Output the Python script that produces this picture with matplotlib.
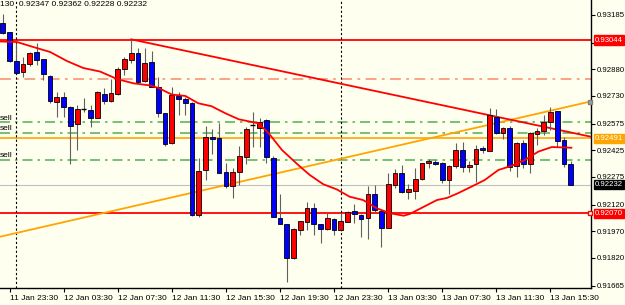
import matplotlib
matplotlib.use("Agg")
import matplotlib.pyplot as plt
import matplotlib.transforms as mtransforms

plt.rcParams['font.family'] = ['Liberation Sans', 'DejaVu Sans']

# Bougies M30, de 11 Jan 23:00 a 13 Jan 17:00 (index 0..84)
opens = [0.93142, 0.93088, 0.92926, 0.92865, 0.92910, 0.92975, 0.92936, 0.92842, 0.92698, 0.92722,
         0.92666, 0.92573, 0.92655, 0.92651, 0.92604, 0.92743, 0.92702, 0.92741, 0.92880, 0.92932,
         0.92970, 0.92813, 0.92922, 0.92779, 0.92633, 0.92467, 0.92732, 0.92713, 0.92689, 0.92061,
         0.92312, 0.92498, 0.92496, 0.92304, 0.92226, 0.92304, 0.92388, 0.92567, 0.92548, 0.92595,
         0.92380, 0.92042, 0.92009, 0.91818, 0.91976, 0.92023, 0.92098, 0.92009, 0.91981, 0.92038,
         0.91976, 0.92023, 0.92085, 0.92061, 0.92042, 0.92177, 0.92085, 0.91986, 0.92231, 0.92299,
         0.92189, 0.92198, 0.92264, 0.92352, 0.92361, 0.92355, 0.92258, 0.92338, 0.92426, 0.92329,
         0.92346, 0.92436, 0.92423, 0.92613, 0.92520, 0.92552, 0.92338, 0.92464, 0.92346, 0.92516,
         0.92533, 0.92585, 0.92645, 0.92482, 0.92347]
highs = [0.93191, 0.93091, 0.93026, 0.92947, 0.92979, 0.93026, 0.92940, 0.92845, 0.92754, 0.92754,
         0.92672, 0.92679, 0.92717, 0.92679, 0.92760, 0.92773, 0.92825, 0.92895, 0.92951, 0.93046,
         0.92998, 0.92998, 0.92984, 0.92839, 0.92635, 0.92779, 0.92754, 0.92726, 0.92694, 0.92380,
         0.92561, 0.92543, 0.92580, 0.92352, 0.92323, 0.92449, 0.92557, 0.92642, 0.92605, 0.92598,
         0.92393, 0.92177, 0.92012, 0.91990, 0.92030, 0.92136, 0.92127, 0.92012, 0.92070, 0.92042,
         0.92070, 0.92085, 0.92121, 0.92065, 0.92226, 0.92230, 0.92088, 0.92295, 0.92318, 0.92342,
         0.92233, 0.92323, 0.92355, 0.92374, 0.92370, 0.92360, 0.92343, 0.92464, 0.92473, 0.92364,
         0.92454, 0.92449, 0.92661, 0.92655, 0.92557, 0.92561, 0.92473, 0.92483, 0.92529, 0.92548,
         0.92623, 0.92666, 0.92648, 0.92501, 0.92362]
lows = [0.93078, 0.92923, 0.92858, 0.92838, 0.92900, 0.92904, 0.92820, 0.92692, 0.92613, 0.92613,
        0.92348, 0.92427, 0.92641, 0.92557, 0.92604, 0.92683, 0.92698, 0.92735, 0.92848, 0.92917,
        0.92805, 0.92810, 0.92779, 0.92610, 0.92451, 0.92460, 0.92622, 0.92622, 0.92058, 0.92052,
        0.92258, 0.92404, 0.92296, 0.92211, 0.92155, 0.92230, 0.92348, 0.92442, 0.92445, 0.92355,
        0.92050, 0.92009, 0.91686, 0.91815, 0.91949, 0.91977, 0.91949, 0.91902, 0.91978, 0.91949,
        0.91974, 0.92020, 0.92014, 0.91939, 0.91925, 0.92070, 0.91879, 0.91986, 0.92211, 0.92185,
        0.92149, 0.92149, 0.92258, 0.92327, 0.92343, 0.92239, 0.92179, 0.92323, 0.92301, 0.92301,
        0.92248, 0.92407, 0.92418, 0.92517, 0.92486, 0.92310, 0.92276, 0.92323, 0.92299, 0.92455,
        0.92511, 0.92539, 0.92445, 0.92329, 0.92228]
closes = [0.93082, 0.92926, 0.92861, 0.92908, 0.92970, 0.92932, 0.92852, 0.92703, 0.92722, 0.92670,
          0.92563, 0.92657, 0.92652, 0.92608, 0.92751, 0.92703, 0.92745, 0.92880, 0.92936, 0.92973,
          0.92810, 0.92917, 0.92782, 0.92636, 0.92460, 0.92735, 0.92715, 0.92689, 0.92061, 0.92308,
          0.92501, 0.92486, 0.92299, 0.92226, 0.92304, 0.92393, 0.92543, 0.92565, 0.92584, 0.92385,
          0.92052, 0.92009, 0.91818, 0.91981, 0.92027, 0.92098, 0.92010, 0.91981, 0.92042, 0.91976,
          0.92029, 0.92076, 0.92065, 0.92038, 0.92177, 0.92089, 0.91986, 0.92235, 0.92299, 0.92189,
          0.92205, 0.92261, 0.92352, 0.92367, 0.92346, 0.92258, 0.92338, 0.92426, 0.92329, 0.92342,
          0.92432, 0.92426, 0.92623, 0.92520, 0.92548, 0.92333, 0.92464, 0.92346, 0.92524, 0.92533,
          0.92585, 0.92641, 0.92478, 0.92347, 0.92232]

# Moyenne mobile
ma_x = [-0.4, 2.1, 4.5, 7.0, 9.5, 11.9, 14.4, 15.9, 16.9, 19.3, 21.8, 23.0, 25.0, 27.0, 28.9,
        30.9, 32.9, 34.9, 37.8, 39.3, 41.3, 43.7, 45.4, 47.4, 49.4, 51.3, 53.3, 55.3, 57.3, 59.3,
        60.2, 62.2, 64.2, 65.7, 67.3, 69.3, 71.3, 73.3, 75.3, 77.2, 79.2, 81.2, 84.1]
ma_y = [0.93036, 0.93033, 0.93005, 0.92977, 0.92926, 0.92887, 0.92867, 0.92842, 0.92825, 0.92801,
        0.92789, 0.92775, 0.92738, 0.92730, 0.92689, 0.92672, 0.92633, 0.92599, 0.92576, 0.92522,
        0.92426, 0.92342, 0.92286, 0.92234, 0.92205, 0.92164, 0.92145, 0.92099, 0.92071, 0.92057,
        0.92067, 0.92106, 0.92145, 0.92157, 0.92183, 0.92220, 0.92258, 0.92314, 0.92338, 0.92370,
        0.92417, 0.92443, 0.92439]

# Niveaux et lignes de tendance
resist_level = 0.93044
support_level = 0.92070
orange_level = 0.92491
bid_level = 0.92232
salmon_level = 0.92827
sell_levels = [0.92582, 0.92524, 0.92370]
red_trend_x = [19.0, 86.85]
red_trend_y = [0.93048, 0.92502]
orange_trend_x = [-0.41, 86.85]
orange_trend_y = [0.91939, 0.92698]
day_breaks = [2, 50]

price_ticks = [0.93185, 0.93030, 0.92880, 0.92730, 0.92575, 0.92425, 0.92275, 0.92120, 0.91970, 0.91820, 0.91665]
time_ticks = [1, 9, 17, 25, 33, 41, 49, 57, 65, 73, 81]
time_labels = ['11 Jan 23:30', '12 Jan 03:30', '12 Jan 07:30', '12 Jan 11:30', '12 Jan 15:30',
               '12 Jan 19:30', '12 Jan 23:30', '13 Jan 03:30', '13 Jan 07:30', '13 Jan 11:30',
               '13 Jan 15:30']

bg = '#FFFFF0'
fs = 6.0
fs_price = 5.6

fig = plt.figure(figsize=(6.25, 3.05), dpi=100, facecolor=bg)
ax = fig.add_axes([0, 17 / 305, 591 / 625, 288 / 305])
ax.set_facecolor(bg)
ax.set_xlim(-0.41, 87.0)
ax.set_ylim(0.91651, 0.93269)

# Lignes horizontales
ax.axhline(resist_level, color='#FF0000', lw=1.3, zorder=1)
ax.axhline(support_level, color='#FF0000', lw=1.3, zorder=1)
ax.axhline(orange_level, color='#FFA500', lw=1.2, zorder=1)
ax.axhline(bid_level, color='#C0C0C0', lw=0.8, zorder=1)
ax.axhline(salmon_level, color='#FA9C80', lw=1.3, ls=(0, (6, 3, 1.5, 3)), zorder=1)
for lvl in sell_levels:
    ax.axhline(lvl, color='#5DB55D', lw=1.2, ls=(0, (6, 3, 1.5, 3)), zorder=1)
    ax.text(0.0, lvl + 0.00004, 'sell', fontsize=fs, color='black', va='bottom', ha='left',
            transform=mtransforms.blended_transform_factory(ax.transAxes, ax.transData))

for d in day_breaks:
    ax.axvline(d, color='black', lw=0.8, ls=(0, (2, 2)), zorder=1)

# Lignes de tendance
ax.plot(orange_trend_x, orange_trend_y, color='#FFA500', lw=1.3, zorder=2)
ax.plot(red_trend_x, red_trend_y, color='#FF0000', lw=1.3, zorder=2)

# Bougies
for i in range(len(opens)):
    o, h, l, c = opens[i], highs[i], lows[i], closes[i]
    col = '#FF0000' if c > o else '#0000FF'
    ax.vlines(i, l, h, color='#606060', lw=0.8, zorder=3)
    if abs(c - o) < 0.00004:
        ax.hlines(o, i - 0.37, i + 0.37, color='black', lw=1.0, zorder=4)
    else:
        ax.bar(i, abs(c - o), bottom=min(o, c), width=0.7, color=col,
               edgecolor='black', linewidth=0.6, zorder=4)

# Moyenne mobile
ax.plot(ma_x, ma_y, color='#FF0000', lw=1.3, zorder=5)

# petits marqueurs en bout de ligne
ax.plot([86.8], [support_level], marker='s', ms=3.5, mfc='white', mec='#FF0000', mew=1, zorder=6,
        clip_on=False)
ax.plot([86.85], [orange_trend_y[1]], marker='s', ms=3, mfc='#A0A0A0', mec='#808080', zorder=6,
        clip_on=False)

# Axes
for s in ['top', 'left']:
    ax.spines[s].set_visible(False)
ax.spines['right'].set_linewidth(1.0)
ax.spines['bottom'].set_linewidth(1.0)
ax.yaxis.tick_right()
ax.set_yticks(price_ticks)
ax.set_yticklabels(['%.5f' % p for p in price_ticks])
ax.set_xticks(time_ticks)
ax.set_xticklabels(time_labels, ha='left')
ax.tick_params(axis='y', length=3, width=0.8, labelsize=fs_price, pad=1)
ax.tick_params(axis='x', length=3, width=0.8, labelsize=fs, pad=2)

# Etiquettes de prix sur l'axe droit
ytr = mtransforms.blended_transform_factory(ax.transAxes, ax.transData)
for lvl, fc in [(resist_level, '#FF0000'), (orange_level, '#FFA500'),
                (bid_level, '#000000'), (support_level, '#FF0000')]:
    ax.text(1.007, lvl, '%.5f' % lvl, transform=ytr, fontsize=fs_price, color='white', va='center',
            ha='left', zorder=10, clip_on=False,
            bbox=dict(boxstyle='square,pad=0.15', fc=fc, ec=fc))

# Titre en haut a gauche
ax.text(0.0, 0.995, '130  0.92347 0.92362 0.92228 0.92232', transform=ax.transAxes,
        fontsize=fs, va='top', ha='left', color='black')

fig.savefig('out.png', dpi=100, facecolor=bg)
